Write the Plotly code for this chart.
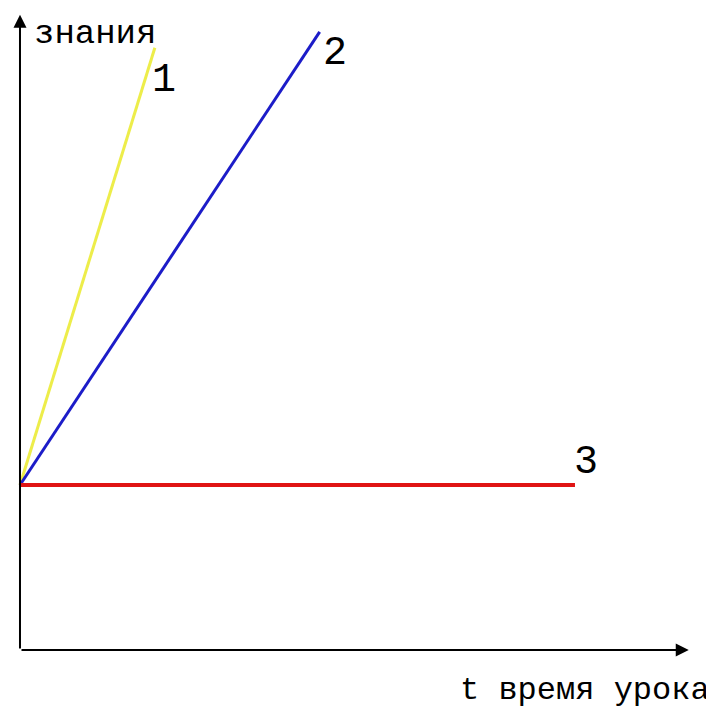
import plotly.graph_objects as go

# time of lesson (x) and knowledge (y) for the three curves
series_names = ["1", "2", "3"]
series_t = [[0, 2.43], [0, 5.4], [0, 10.0]]
series_k = [[3.0, 10.95], [3.0, 11.24], [3.0, 3.0]]
series_colors = ["#eded4a", "#1c1cc8", "#e01414"]
series_widths = [3, 3, 4]

x_label = "t время урока"
y_label = "знания"

x_axis_end = 12.05
y_axis_end = 11.55

fig = go.Figure()

for name, t, k, color, w in zip(series_names, series_t, series_k, series_colors, series_widths):
    fig.add_trace(go.Scatter(x=t, y=k, mode="lines", line=dict(color=color, width=w),
                             name=name, showlegend=False, hoverinfo="skip"))

# axes drawn as arrows from the origin
fig.add_annotation(x=x_axis_end, y=0, ax=0, ay=0, xref="x", yref="y", axref="x", ayref="y",
                   text="", showarrow=True, arrowhead=2, arrowsize=1.3, arrowwidth=2, arrowcolor="black")
fig.add_annotation(x=0, y=y_axis_end, ax=0, ay=0, xref="x", yref="y", axref="x", ayref="y",
                   text="", showarrow=True, arrowhead=2, arrowsize=1.3, arrowwidth=2, arrowcolor="black")

num_font = dict(family="Liberation Mono", size=40, color="black")

fig.add_annotation(x=0.22, y=11.2, text=y_label, showarrow=False, xanchor="left", yanchor="middle",
                   font=dict(family="Liberation Mono", size=34, color="black"))
fig.add_annotation(x=12.47, y=-0.73, text=x_label, showarrow=False, xanchor="right", yanchor="middle",
                   font=dict(family="Liberation Mono", size=32, color="black"))

# curve numbers placed at the end of each line
label_dx = [0.17, 0.27, 0.2]
label_dy = [-0.6, -0.4, 0.4]
for name, t, k, dx, dy in zip(series_names, series_t, series_k, label_dx, label_dy):
    fig.add_annotation(x=t[-1] + dx, y=k[-1] + dy, text=name, showarrow=False, font=num_font,
                       xanchor="center", yanchor="middle")

fig.update_layout(
    width=706, height=706,
    margin=dict(l=0, r=0, t=0, b=0),
    plot_bgcolor="white", paper_bgcolor="white",
    xaxis=dict(range=[-0.216, 12.505], visible=False),
    yaxis=dict(range=[-1.164, 11.673], visible=False),
)

fig.write_html("out.html")
